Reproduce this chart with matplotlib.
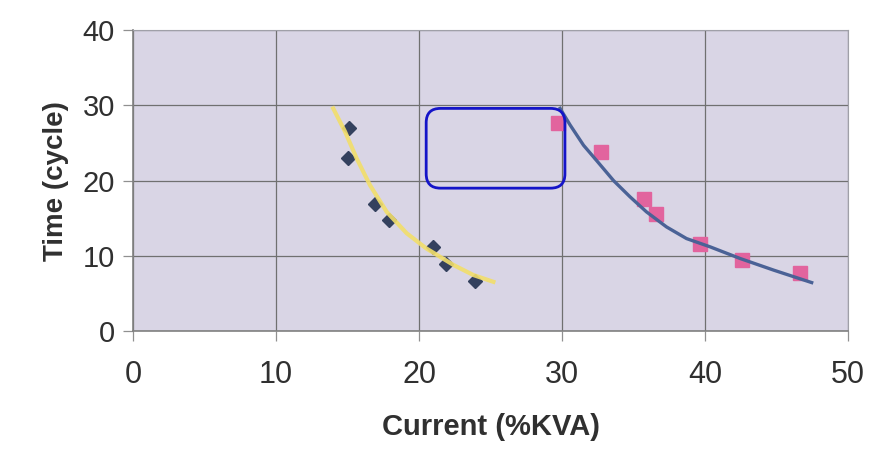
import matplotlib
matplotlib.use("Agg")
import matplotlib.pyplot as plt
from matplotlib.patches import FancyBboxPatch

# Data
diamond_x = [15.1, 15.0, 16.9, 17.9, 21.0, 21.9, 23.9]
diamond_y = [27.0, 23.0, 16.9, 14.8, 11.2, 8.9, 6.7]

square_x = [29.7, 32.7, 35.7, 36.6, 39.65, 42.6, 46.6]
square_y = [27.6, 23.8, 17.6, 15.5, 11.6, 9.5, 7.7]

# trendline traces
yellow_x = [14.0, 14.83, 15.64, 16.57, 17.74, 19.14, 20.5, 22.4, 23.8, 25.2]
yellow_y = [29.6, 26.5, 22.95, 19.4, 15.85, 13.0, 11.0, 8.8, 7.45, 6.55]

blue_x = [29.86, 30.56, 31.5, 32.4, 33.6, 34.75, 35.9, 37.3, 38.7, 40.35,
          42.45, 44.8, 47.45]
blue_y = [29.6, 27.4, 24.7, 22.7, 20.0, 17.85, 15.85, 13.85, 12.3, 11.2,
          9.65, 8.1, 6.45]

# highlighted region (rounded box)
box_x0, box_x1 = 20.5, 30.2
box_y0, box_y1 = 19.0, 29.6

x_ticks = [0, 10, 20, 30, 40, 50]
y_ticks = [0, 10, 20, 30, 40]

plt.rcParams['font.family'] = ['Liberation Sans', 'DejaVu Sans']

fig = plt.figure(figsize=(8.69, 4.71), dpi=100)
ax = fig.add_axes([0.153, 0.297, 0.823, 0.639])
ax.set_facecolor('#d9d5e5')

ax.set_xlim(0, 50)
ax.set_ylim(0, 40)
ax.set_xticks(x_ticks)
ax.set_yticks(y_ticks)
ax.grid(True, color='#707070', linewidth=0.9)
ax.set_axisbelow(True)

for side in ['top', 'right']:
    ax.spines[side].set_color('#a0a0a8')
    ax.spines[side].set_linewidth(0.8)
for side in ['left', 'bottom']:
    ax.spines[side].set_color('#808080')
    ax.spines[side].set_linewidth(1.2)

ax.tick_params(axis='both', direction='out', length=7, width=0.9, color='#909090',
               colors='#303030')
ax.tick_params(axis='x', labelsize=22, pad=14)
ax.tick_params(axis='y', labelsize=21, pad=6)

ax.plot(diamond_x, diamond_y, linestyle='none', marker='D', markersize=7.5,
        color='#34415e', zorder=2)
ax.plot(yellow_x, yellow_y, color='#f2de6a', linewidth=3.0, zorder=3,
        solid_joinstyle='round', alpha=0.9)

ax.plot(square_x, square_y, linestyle='none', marker='s', markersize=9.5,
        color='#e2649e', zorder=2)
ax.plot(blue_x, blue_y, color='#4a6296', linewidth=2.4, zorder=3,
        solid_joinstyle='round')

# ratio of pixels per x unit to pixels per y unit, for circular corners
px_x = 0.823 * 8.69 * 100 / 50
px_y = 0.639 * 4.71 * 100 / 40
box = FancyBboxPatch((box_x0, box_y0), box_x1 - box_x0, box_y1 - box_y0,
                     boxstyle='round,pad=0,rounding_size=1.0',
                     mutation_aspect=px_x / px_y,
                     facecolor='none', edgecolor='#1414c8', linewidth=2.0, zorder=5)
ax.add_patch(box)

ax.set_xlabel('Current (%KVA)', fontsize=21, fontweight='bold', color='#303030',
              labelpad=16)
ax.set_ylabel('Time (cycle)', fontsize=20, fontweight='bold', color='#303030',
              labelpad=10)

fig.savefig('out.png', dpi=100, facecolor='white')
